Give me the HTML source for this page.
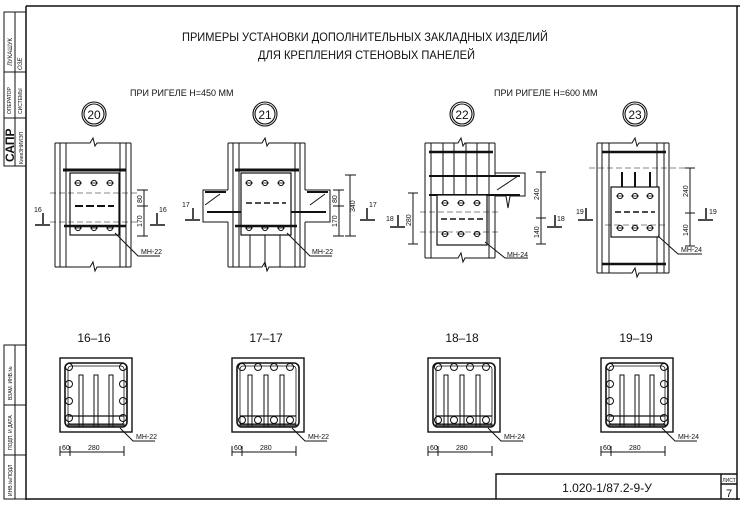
<!DOCTYPE html>
<html><head><meta charset="utf-8"><style>
html,body{margin:0;padding:0;background:#fff}
svg{display:block}
text{font-family:"Liberation Sans",sans-serif;fill:#111}
</style></head><body>
<svg width="744" height="506" viewBox="0 0 744 506" xmlns="http://www.w3.org/2000/svg">
<defs>
<g id="bolt"><circle r="2.6" fill="none" stroke="#111" stroke-width="1"/><line x1="-4" y1="0" x2="4" y2="0" stroke="#111" stroke-width="0.8"/></g>
<g id="sec">
 <rect x="0" y="0" width="72" height="74" fill="none" stroke="#111" stroke-width="1.4"/>
 <rect x="5" y="5" width="62" height="64" rx="5" fill="none" stroke="#111" stroke-width="1.6"/>
 <rect x="8" y="8" width="56" height="58" rx="3" fill="none" stroke="#111" stroke-width="0.8"/>
 <rect x="8" y="66" width="56" height="3" fill="#555"/>
 <line x1="8" y1="58" x2="64" y2="58" stroke="#111" stroke-width="1.2"/>
</g>
</defs>
<line x1="26" y1="6" x2="740" y2="6" stroke="#111" stroke-width="1.5"/>
<line x1="26" y1="6" x2="26" y2="500" stroke="#111" stroke-width="1.5"/>
<line x1="737" y1="6" x2="737" y2="500" stroke="#111" stroke-width="1.5"/>
<line x1="26" y1="499" x2="740" y2="499" stroke="#111" stroke-width="1.5"/>
<g stroke="#111" stroke-width="1" fill="none">
<rect x="4" y="12" width="22" height="154"/>
<line x1="4" y1="72" x2="26" y2="72"/><line x1="4" y1="118" x2="26" y2="118"/><line x1="15" y1="12" x2="15" y2="166"/>
<rect x="4" y="345" width="22" height="154"/>
<line x1="4" y1="405" x2="26" y2="405"/><line x1="4" y1="455" x2="26" y2="455"/><line x1="15" y1="345" x2="15" y2="499"/>
</g>
<g font-size="6">
<text transform="translate(12,66) rotate(-90)">ЛУКАШУК</text>
<text transform="translate(22,70) rotate(-90)" font-style="italic">ОЗЕ</text>
<text transform="translate(11,114) rotate(-90)" font-size="5">ОПЕРАТОР</text>
<text transform="translate(22,114) rotate(-90)" font-size="5">СИСТЕМЫ</text>
<text transform="translate(14,162) rotate(-90)" font-size="12" font-weight="bold">САПР</text>
<text transform="translate(23,164) rotate(-90)" font-size="5">КиевЗНИИЭП</text>
<text transform="translate(12,400) rotate(-90)" font-size="5">ВЗАМ. ИНВ.№</text>
<text transform="translate(12,450) rotate(-90)" font-size="5">ПОДП. И ДАТА</text>
<text transform="translate(12,496) rotate(-90)" font-size="5">ИНВ.№ПОДЛ</text>
</g>
<text x="182" y="41" font-size="12" textLength="366" lengthAdjust="spacingAndGlyphs">ПРИМЕРЫ УСТАНОВКИ ДОПОЛНИТЕЛЬНЫХ ЗАКЛАДНЫХ ИЗДЕЛИЙ</text>
<text x="258" y="59" font-size="12" textLength="217" lengthAdjust="spacingAndGlyphs">ДЛЯ КРЕПЛЕНИЯ СТЕНОВЫХ ПАНЕЛЕЙ</text>
<text x="130" y="96" font-size="9">ПРИ РИГЕЛЕ Н=450 ММ</text>
<text x="494" y="96" font-size="9">ПРИ РИГЕЛЕ Н=600 ММ</text>
<g fill="none" stroke="#111" stroke-width="1.1">
<circle cx="94" cy="114" r="12"/><circle cx="94" cy="114" r="10"/>
<circle cx="265" cy="114" r="12"/><circle cx="265" cy="114" r="10"/>
<circle cx="462" cy="114" r="12"/><circle cx="462" cy="114" r="10"/>
<circle cx="635" cy="114" r="12"/><circle cx="635" cy="114" r="10"/>
</g>
<g font-size="12" text-anchor="middle"><text x="94" y="119">20</text><text x="265" y="119">21</text><text x="462" y="119">22</text><text x="635" y="119">23</text></g>

<g stroke="#111" fill="none" stroke-width="1">
<path d="M55 143 H90 L93 138 L95 146 L97 143 H131"/>
<path d="M55 267 H90 L93 262 L95 271 L97 267 H131"/>
<line x1="55" y1="143" x2="55" y2="267"/><line x1="131" y1="143" x2="131" y2="267"/>
<line x1="60" y1="143" x2="60" y2="267"/><line x1="66" y1="143" x2="66" y2="267"/>
<line x1="120" y1="143" x2="120" y2="267"/><line x1="126" y1="143" x2="126" y2="267"/>
<line x1="63" y1="170" x2="126" y2="170" stroke-width="3"/>
<rect x="70" y="173" width="49" height="62" fill="#fff" stroke-width="1.2"/>
<line x1="50" y1="193" x2="140" y2="193" stroke-dasharray="6 3" stroke-width="0.6"/>
<line x1="75" y1="206" x2="114" y2="206" stroke-dasharray="8 3" stroke-width="2"/>
<line x1="50" y1="222" x2="140" y2="222" stroke-dasharray="6 3" stroke-width="0.6"/>
<line x1="64" y1="226" x2="126" y2="226" stroke-width="2.5"/>
<line x1="144" y1="190" x2="144" y2="236"/><line x1="137" y1="190" x2="148" y2="190"/><line x1="137" y1="206" x2="148" y2="206"/><line x1="137" y1="236" x2="148" y2="236"/>
<path d="M115 233 L138 256 H160"/>
<path d="M35 225 H50 M43 213 V224" stroke-width="1.5"/>
<path d="M150 225 H165 M157 213 V224" stroke-width="1.5"/>
</g>
<use href="#bolt" x="78" y="183"/><use href="#bolt" x="94" y="183"/><use href="#bolt" x="110" y="183"/>
<use href="#bolt" x="78" y="228"/><use href="#bolt" x="94" y="228"/><use href="#bolt" x="110" y="228"/>
<g font-size="7"><text x="34" y="212">16</text><text x="159" y="212">16</text><text x="141" y="254">МН-22</text>
<text transform="translate(142,203) rotate(-90)">80</text><text transform="translate(142,227) rotate(-90)">170</text></g>

<g stroke="#111" fill="none" stroke-width="1">
<path d="M228 143 H262 L265 138 L267 146 L269 143 H305"/>
<path d="M228 267 H262 L265 262 L267 271 L269 267 H305"/>
<line x1="228" y1="143" x2="228" y2="190"/><line x1="228" y1="222" x2="228" y2="267"/>
<line x1="305" y1="143" x2="305" y2="190"/><line x1="305" y1="222" x2="305" y2="267"/>
<line x1="233" y1="143" x2="233" y2="267"/><line x1="239" y1="143" x2="239" y2="267"/>
<line x1="295" y1="143" x2="295" y2="267"/><line x1="300" y1="143" x2="300" y2="267"/>
<line x1="250" y1="235" x2="250" y2="267"/><line x1="265" y1="235" x2="265" y2="267"/><line x1="280" y1="235" x2="280" y2="267"/>
<path d="M228 190 H203 V222 H228 M305 190 H330 V222 H305"/>
<line x1="205" y1="192" x2="226" y2="192" stroke-width="2"/><line x1="307" y1="192" x2="328" y2="192" stroke-width="2"/>
<line x1="207" y1="212" x2="326" y2="212" stroke-width="2"/>
<path d="M205 205 L220 194 M310 205 L325 194"/>
<line x1="235" y1="170" x2="299" y2="170" stroke-width="3"/>
<rect x="241" y="173" width="50" height="62" fill="#fff" stroke-width="1.2"/>
<line x1="246" y1="203" x2="286" y2="203" stroke-dasharray="6 3" stroke-width="1.4"/>
<line x1="235" y1="226" x2="297" y2="226" stroke-width="2.5"/>
<line x1="339" y1="190" x2="339" y2="236"/><line x1="333" y1="190" x2="344" y2="190"/><line x1="333" y1="206" x2="344" y2="206"/><line x1="333" y1="236" x2="344" y2="236"/>
<line x1="350" y1="175" x2="350" y2="236"/><line x1="345" y1="175" x2="356" y2="175"/><line x1="345" y1="236" x2="356" y2="236"/>
<path d="M287 233 L310 256 H332"/>
<path d="M185 220 H200 M193 208 V219" stroke-width="1.5"/>
<path d="M360 220 H375 M367 208 V219" stroke-width="1.5"/>
</g>
<use href="#bolt" x="249" y="183"/><use href="#bolt" x="265" y="183"/><use href="#bolt" x="281" y="183"/>
<use href="#bolt" x="249" y="228"/><use href="#bolt" x="265" y="228"/><use href="#bolt" x="281" y="228"/>
<g font-size="7"><text x="182" y="207">17</text><text x="369" y="207">17</text><text x="312" y="254">МН-22</text>
<text transform="translate(337,203) rotate(-90)">80</text><text transform="translate(337,227) rotate(-90)">170</text><text transform="translate(355,212) rotate(-90)">340</text></g>

<g stroke="#111" fill="none" stroke-width="1">
<path d="M425 143 H458 L461 138 L463 146 L465 143 H495"/>
<path d="M425 258 H458 L461 253 L463 262 L465 258 H495"/>
<line x1="425" y1="143" x2="425" y2="258"/><line x1="495" y1="143" x2="495" y2="177"/><line x1="495" y1="196" x2="495" y2="258"/>
<line x1="431" y1="143" x2="431" y2="258"/><line x1="489" y1="143" x2="489" y2="258"/>
<line x1="443" y1="143" x2="443" y2="196"/><line x1="454" y1="143" x2="454" y2="196"/><line x1="466" y1="143" x2="466" y2="196"/><line x1="477" y1="143" x2="477" y2="196"/>
<line x1="429" y1="152" x2="493" y2="152" stroke-width="2.5"/>
<line x1="429" y1="176" x2="520" y2="176" stroke-width="2"/>
<line x1="429" y1="195" x2="520" y2="195" stroke-width="2"/>
<path d="M495 173 H525 V196 L510 196 L508 208 L506 196 H495"/>
<path d="M497 190 L518 176"/>
<rect x="437" y="195" width="50" height="50" fill="#fff" stroke-width="1.2"/>
<line x1="441" y1="219" x2="483" y2="219" stroke-dasharray="6 3" stroke-width="1.4"/>
<line x1="420" y1="212" x2="500" y2="212" stroke-dasharray="6 3" stroke-width="0.6"/>
<line x1="420" y1="232" x2="500" y2="232" stroke-dasharray="6 3" stroke-width="0.6"/>
<line x1="541" y1="172" x2="541" y2="244"/><line x1="536" y1="172" x2="546" y2="172"/><line x1="536" y1="218" x2="546" y2="218"/><line x1="536" y1="244" x2="546" y2="244"/>
<line x1="413" y1="193" x2="413" y2="244"/><line x1="408" y1="193" x2="418" y2="193"/><line x1="408" y1="244" x2="418" y2="244"/>
<path d="M485 242 L505 258 H528"/>
<path d="M390 227 H405 M398 215 V226" stroke-width="1.5"/>
<path d="M547 227 H562 M555 215 V226" stroke-width="1.5"/>
</g>
<use href="#bolt" x="445" y="203"/><use href="#bolt" x="461" y="203"/><use href="#bolt" x="477" y="203"/>
<use href="#bolt" x="445" y="234"/><use href="#bolt" x="461" y="234"/><use href="#bolt" x="477" y="234"/>
<g font-size="7"><text x="386" y="221">18</text><text x="557" y="221">18</text><text x="507" y="257">МН-24</text>
<text transform="translate(539,200) rotate(-90)">240</text><text transform="translate(539,238) rotate(-90)">140</text><text transform="translate(411,226) rotate(-90)">280</text></g>

<g stroke="#111" fill="none" stroke-width="1">
<path d="M597 143 H632 L635 138 L637 146 L639 143 H669"/>
<path d="M597 273 H632 L635 268 L637 277 L639 273 H669"/>
<line x1="597" y1="143" x2="597" y2="273"/><line x1="669" y1="143" x2="669" y2="273"/>
<line x1="602" y1="143" x2="602" y2="273"/><line x1="609" y1="143" x2="609" y2="273"/>
<line x1="657" y1="143" x2="657" y2="273"/><line x1="664" y1="143" x2="664" y2="273"/>
<line x1="602" y1="152" x2="666" y2="152" stroke-width="2.5"/>
<line x1="602" y1="264" x2="666" y2="264" stroke-width="2.5"/>
<line x1="589" y1="168" x2="690" y2="168" stroke-dasharray="6 3" stroke-width="0.6"/>
<line x1="622" y1="172" x2="622" y2="187" stroke-width="2"/><line x1="635" y1="172" x2="635" y2="187" stroke-width="2"/><line x1="650" y1="172" x2="650" y2="187" stroke-width="2"/>
<rect x="611" y="187" width="48" height="50" fill="#fff" stroke-width="1.2"/>
<line x1="615" y1="212" x2="655" y2="212" stroke-dasharray="6 3" stroke-width="1.4"/>
<line x1="605" y1="225" x2="665" y2="225" stroke-dasharray="6 3" stroke-width="0.6"/>
<line x1="690" y1="168" x2="690" y2="246"/><line x1="685" y1="168" x2="695" y2="168"/><line x1="685" y1="213" x2="695" y2="213"/><line x1="685" y1="246" x2="695" y2="246"/>
<path d="M658 236 L678 254 H702"/>
<path d="M578 220 H593 M586 208 V219" stroke-width="1.5"/>
<path d="M698 220 H713 M706 208 V219" stroke-width="1.5"/>
</g>
<use href="#bolt" x="620" y="196"/><use href="#bolt" x="635" y="196"/><use href="#bolt" x="650" y="196"/>
<use href="#bolt" x="620" y="228"/><use href="#bolt" x="635" y="228"/><use href="#bolt" x="650" y="228"/>
<g font-size="7"><text x="576" y="214">19</text><text x="709" y="214">19</text><text x="681" y="252">МН-24</text>
<text transform="translate(688,197) rotate(-90)">240</text><text transform="translate(688,236) rotate(-90)">140</text></g>

<g font-size="12" text-anchor="middle"><text x="94" y="342">16–16</text><text x="266" y="342">17–17</text><text x="462" y="342">18–18</text><text x="636" y="342">19–19</text></g>

<g stroke="#111" fill="none" stroke-width="1">
<use href="#sec" x="60" y="358"/><use href="#sec" x="232" y="358"/><use href="#sec" x="428" y="358"/><use href="#sec" x="601" y="358"/>
<circle cx="69" cy="367" r="3.5"/><circle cx="123" cy="367" r="3.5"/><circle cx="69" cy="384" r="3.5"/><circle cx="123" cy="384" r="3.5"/><circle cx="69" cy="401" r="3.5"/><circle cx="123" cy="401" r="3.5"/><circle cx="69" cy="418" r="3.5"/><circle cx="123" cy="418" r="3.5"/>
<rect x="79" y="375" width="4" height="52"/><rect x="94" y="375" width="4" height="52"/><rect x="109" y="375" width="4" height="52"/>
<circle cx="242" cy="367" r="3.5"/><circle cx="258" cy="367" r="3.5"/><circle cx="274" cy="367" r="3.5"/><circle cx="290" cy="367" r="3.5"/>
<circle cx="242" cy="420" r="3.5"/><circle cx="258" cy="420" r="3.5"/><circle cx="274" cy="420" r="3.5"/><circle cx="290" cy="420" r="3.5"/>
<rect x="248" y="375" width="4" height="52"/><rect x="264" y="375" width="4" height="52"/><rect x="280" y="375" width="4" height="52"/>
<circle cx="438" cy="367" r="3.5"/><circle cx="454" cy="367" r="3.5"/><circle cx="470" cy="367" r="3.5"/><circle cx="486" cy="367" r="3.5"/>
<circle cx="438" cy="420" r="3.5"/><circle cx="454" cy="420" r="3.5"/><circle cx="470" cy="420" r="3.5"/><circle cx="486" cy="420" r="3.5"/>
<rect x="444" y="375" width="4" height="52"/><rect x="460" y="375" width="4" height="52"/><rect x="476" y="375" width="4" height="52"/>
<circle cx="610" cy="367" r="3.5"/><circle cx="664" cy="367" r="3.5"/><circle cx="610" cy="384" r="3.5"/><circle cx="664" cy="384" r="3.5"/><circle cx="610" cy="401" r="3.5"/><circle cx="664" cy="401" r="3.5"/><circle cx="610" cy="418" r="3.5"/><circle cx="664" cy="418" r="3.5"/>
<rect x="620" y="375" width="4" height="52"/><rect x="635" y="375" width="4" height="52"/><rect x="650" y="375" width="4" height="52"/>
<path d="M120 428 L133 441 H155"/><path d="M292 428 L305 441 H327"/><path d="M488 428 L501 441 H523"/><path d="M662 428 L675 441 H697"/>
<path d="M60 452 H124 M60 446 V456 M70 446 V456 M124 446 V456"/>
<path d="M232 452 H296 M232 446 V456 M242 446 V456 M296 446 V456"/>
<path d="M428 452 H492 M428 446 V456 M438 446 V456 M492 446 V456"/>
<path d="M601 452 H665 M601 446 V456 M611 446 V456 M665 446 V456"/>
</g>
<g font-size="7"><text x="136" y="439">МН-22</text><text x="308" y="439">МН-22</text><text x="504" y="439">МН-24</text><text x="678" y="439">МН-24</text>
<text x="62" y="450">60</text><text x="88" y="450">280</text>
<text x="234" y="450">60</text><text x="260" y="450">280</text>
<text x="430" y="450">60</text><text x="456" y="450">280</text>
<text x="603" y="450">60</text><text x="629" y="450">280</text></g>

<g stroke="#111" fill="none" stroke-width="1.4">
<path d="M496 499 V474 H737"/><path d="M721 474 V499 M721 484 H737"/>
</g>
<text x="607" y="492" font-size="12" text-anchor="middle">1.020-1/87.2-9-У</text>
<text x="729" y="482" font-size="5" text-anchor="middle">ЛИСТ</text>
<text x="729" y="497" font-size="11" text-anchor="middle">7</text>
</svg>
</body></html>
